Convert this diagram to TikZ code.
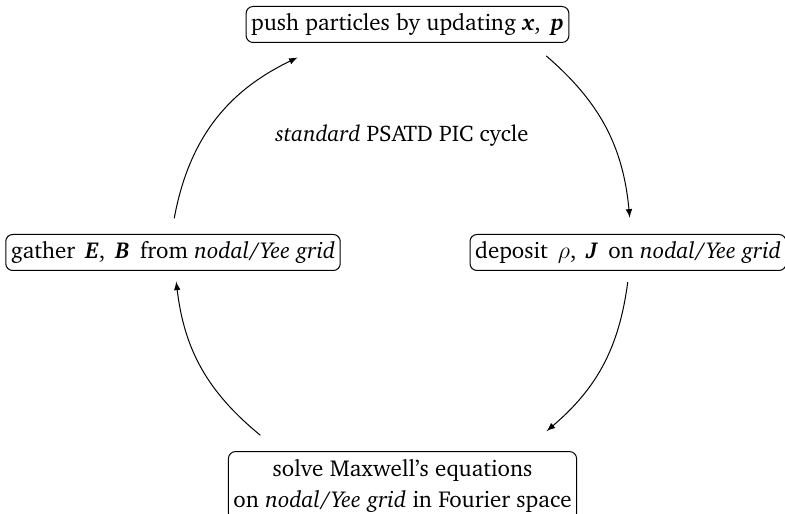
\documentclass[tikz,border=0pt]{standalone}
\usepackage[T1]{fontenc}
\usepackage{charter}
\usepackage{amsmath}
\usepackage{tikz}
\usetikzlibrary{arrows,positioning}
\newcommand{\vecbi}[1]{\textbf{\textit{#1}}}
\tikzstyle{stage} = [
    rectangle,
    rounded corners=3.5pt,
    draw=black,
    line width=0.5pt,
    inner xsep=2.5pt,
    inner ysep=3.5pt,
    minimum height=18pt,
    align=center,
    font=\fontsize{11.5pt}{15.5pt}\selectfont
]
\tikzstyle{cyclearrow} = [
    line width=0.5pt,
    -latex,
    draw=black
]

\begin{document}
\begin{tikzpicture}[x=0.5pt,y=0.5pt]
        \useasboundingbox (-400,-263) rectangle (385,250);
        \node[font=\fontsize{11.3pt}{14pt}\selectfont] (title) at (2,115) {\textit{standard} PSATD PIC cycle};
        \node[stage] (push) at (7.5,225.5) {push particles by updating \vecbi{x}, \,\vecbi{p}};
        \node[stage] (gather) at (-227,-2.5) {gather \,\vecbi{E}, \,\vecbi{B}\, from \textit{nodal}/\textit{Yee grid}};
        \node[stage] (deposit) at (228,-2.5) {deposit \,$\rho$, \,\vecbi{J}\, on \textit{nodal}/\textit{Yee grid}};
        \node[stage, inner ysep=4pt] (solve) at (2.5,-236) {solve Maxwell's equations\\on \textit{nodal}/\textit{Yee grid} in Fourier space};

        \coordinate (gatherout) at (172:228);
        \coordinate (pushin) at (118:218);
        \coordinate (pushout) at (53:243);
        \coordinate (depositin) at (8:232);
        \coordinate (depositout) at (-8:230);
        \coordinate (solvein) at (-51:233);
        \coordinate (solveout) at (233:232);
        \coordinate (gatherin) at (188:226);

        \draw[cyclearrow] (gatherout) to[bend left=27] (pushin);
        \draw[cyclearrow] (pushout) to[bend left=22] (depositin);
        \draw[cyclearrow] (depositout) to[bend left=21] (solvein);
        \draw[cyclearrow] (solveout) to[bend left=22] (gatherin);
    \end{tikzpicture}
\end{document}
